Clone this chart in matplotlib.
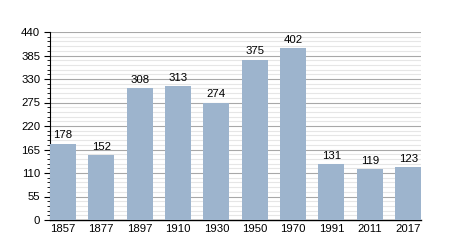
import matplotlib.pyplot as plt
import numpy as np
from matplotlib.ticker import MultipleLocator

plt.rcParams['font.family'] = ['Liberation Sans', 'DejaVu Sans']

years = ['1857', '1877', '1897', '1910', '1930', '1950', '1970', '1991', '2011', '2017']
population = [178, 152, 308, 313, 274, 375, 402, 131, 119, 123]

bar_color = '#9db4cd'
w = 0.68

fig = plt.figure(figsize=(4.5, 2.5), dpi=100)
ax = fig.add_axes([0.111, 0.12, 0.825, 0.752])

x = np.arange(len(years))
ax.bar(x, population, width=w, color=bar_color, zorder=3)
for xi, v in zip(x, population):
    ax.annotate(str(v), (xi, v), xytext=(0, 2.5), textcoords='offset points',
                ha='center', va='bottom', fontsize=8.2, zorder=4)

ax.set_xlim(-w / 2, len(years) - 1 + w / 2)
ax.set_ylim(0, 440)
ax.yaxis.set_major_locator(MultipleLocator(55))
ax.yaxis.set_minor_locator(MultipleLocator(11))
ax.grid(axis='y', which='major', color='#a8a8a8', linewidth=0.8, zorder=1)
ax.grid(axis='y', which='minor', color='#e6e6e6', linewidth=0.8, zorder=0)

ax.set_xticks(x)
ax.set_xticklabels(years)
ax.tick_params(axis='x', length=0, labelsize=8.2, pad=3)
ax.tick_params(axis='y', which='major', length=4, width=0.8, labelsize=8.2, pad=3)
ax.tick_params(axis='y', which='minor', length=2, width=0.6)

for s in ['top', 'right']:
    ax.spines[s].set_visible(False)
ax.spines['left'].set_linewidth(0.8)
ax.spines['bottom'].set_linewidth(1.0)

fig.savefig('out.png', dpi=100)
